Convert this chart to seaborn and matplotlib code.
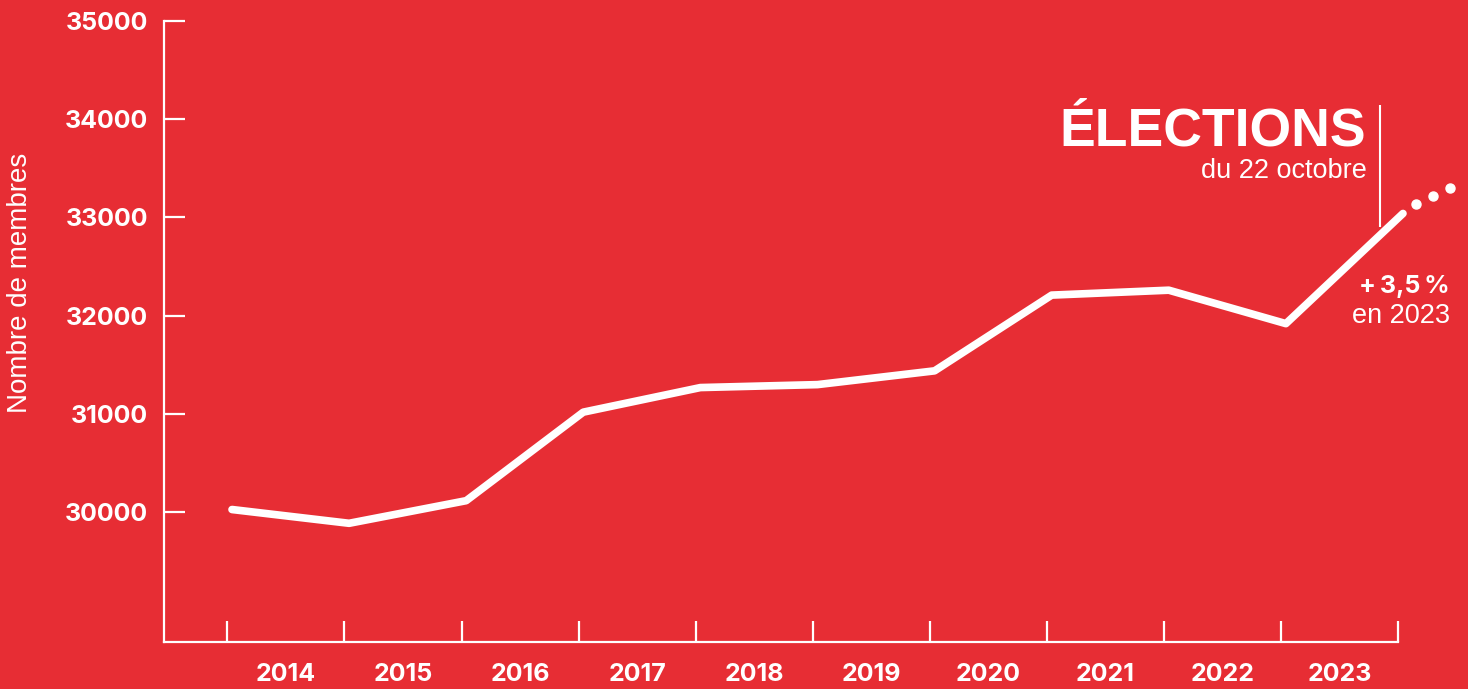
import numpy as np
import pandas as pd
import matplotlib
matplotlib.use('Agg')
import matplotlib.pyplot as plt
import seaborn as sns

# données
positions = [0, 1, 2, 3, 4, 5, 6, 7, 8, 9, 10]
membres = [30030, 29890, 30120, 31020, 31270, 31300, 31440, 32210, 32260, 31920, 33040]
annees = ['2014', '2015', '2016', '2017', '2018', '2019', '2020', '2021', '2022', '2023']
y_ticks = [30000, 31000, 32000, 33000, 34000, 35000]
# prolongement en pointillés après 2023
suite_x = [10.15, 10.30, 10.44]
suite_y = [33135, 33220, 33300]

ROUGE = '#E72D34'
W, H = 1468, 689
REG = ['Liberation Sans', 'DejaVu Sans']

sns.set_theme(style='ticks')
plt.rcParams['font.family'] = ['Inter', 'DejaVu Sans']

df = pd.DataFrame({'pos': np.array(positions) + 0.04, 'membres': membres})

fig = plt.figure(figsize=(W / 100, H / 100), dpi=100, facecolor=ROUGE)
ax = fig.add_axes([163.5 / W, 1 - 642.3 / H, (1398.3 - 163.5) / W, (642.3 - 20.7) / H])
ax.set_facecolor(ROUGE)

sns.lineplot(data=df, x='pos', y='membres', ax=ax, color='white', lw=5.5,
             solid_capstyle='round', solid_joinstyle='round', clip_on=False)
ax.plot(suite_x, suite_y, 'o', color='white', ms=6.5, clip_on=False)

ax.set_xlim(-0.545, 10)
ax.set_ylim(28680, 35000)

for s in ['top', 'right']:
    ax.spines[s].set_visible(False)
for s in ['left', 'bottom']:
    ax.spines[s].set_color('white')
    ax.spines[s].set_linewidth(1.6)

ax.set_yticks(y_ticks)
ax.set_yticklabels([str(v) for v in y_ticks], fontweight='bold', fontsize=18, color='white')
ax.tick_params(axis='y', direction='in', length=15, width=1.6, color='white', pad=11)

ax.set_xticks(np.arange(len(annees)) + 0.5)
ax.set_xticklabels(annees, fontweight='bold', fontsize=18, color='white')
ax.set_xticks(positions, minor=True)
ax.tick_params(axis='x', which='major', length=0, pad=15)
ax.tick_params(axis='x', which='minor', direction='in', length=15, width=1.6, color='white')

ax.set_xlabel('')
ax.set_ylabel('')
fig.text(20 / W, 1 - 283 / H, 'Nombre de membres', rotation=90, ha='center', va='center',
         color='white', fontsize=20, family=REG)

# annotation élections
ax.vlines(9.84, 32900, 34140, color='white', lw=1.5)
fig.text(1366 / W, 1 - 145 / H, 'ÉLECTIONS', ha='right', va='baseline', color='white',
         fontsize=38.5, fontweight='bold', family=REG)
fig.text(1367 / W, 1 - 171 / H, 'du 22 octobre', ha='right', va='center', color='white',
         fontsize=19.5, family=REG)
fig.text(1450 / W, 1 - 286 / H, '+\u20093,5\u2009%', ha='right', va='center', color='white',
         fontsize=18, fontweight='bold')
fig.text(1450 / W, 1 - 316 / H, 'en 2023', ha='right', va='center', color='white',
         fontsize=19.5, family=REG)

fig.savefig('out.png', dpi=100, facecolor=ROUGE)
